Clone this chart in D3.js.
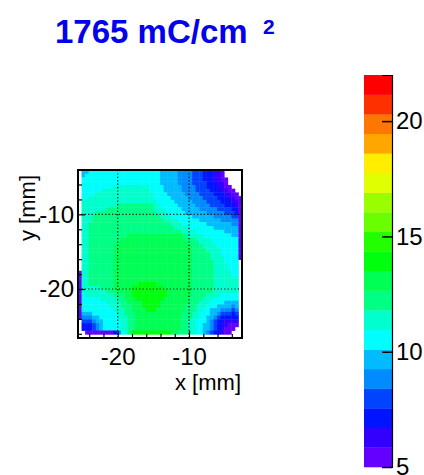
<!DOCTYPE html>
<html>
<head>
<meta charset="utf-8">
<script src="https://cdn.jsdelivr.net/npm/d3@7"></script>
<style>
  body { margin: 0; background: #fff; }
  text { font-family: "Liberation Sans", Arial, Helvetica, sans-serif; }
</style>
</head>
<body>
<script>
// ---- chart values ----
var titleText = "1765 mC/cm";
var titleSup = "2";
var xTitle = "x [mm]";
var yTitle = "y [mm]";

// x / y ranges of the map (mm), bin size 0.5 mm
var xRange = [-25.57, -2.57];
var yRange = [-26.56, -4.06];
var binSize = 0.5;

// z axis: 20 contour levels between 5 and 22
var zRange = [5, 22];
var nLevels = 20;

var xMajorTicks = [-20, -10];
var xMinorTicks = [-24, -22, -18, -16, -14, -12, -8, -6, -4];
var yMajorTicks = [-20, -10];
var yMinorTicks = [-26, -24, -22, -18, -16, -14, -12, -8, -6];
var zTicks = [5, 10, 15, 20];

// map, one row per 0.5 mm from the top (46 bins each).
// runs of "<band><count>": band 0-9, a = 10, "." = empty bin
var mapRuns = [
  ".1 52 620 55 44 33 23 12 01 .5",
  ".1 51 621 55 44 33 23 12 01 .5",
  ".1 622 55 44 33 23 12 02 .4",
  ".1 622 55 44 34 23 12 01 .4",
  ".1 69 710 64 55 44 33 23 12 02 .3",
  ".1 66 713 64 55 44 34 23 12 02 .2",
  ".1 64 716 64 55 44 34 23 12 02 .1",
  ".1 62 718 65 55 44 34 23 12 02",
  ".1 721 65 55 44 34 23 12 01",
  ".1 710 810 72 65 55 44 34 23 11 01",
  ".1 77 813 73 65 55 45 34 22 01",
  ".1 74 817 73 65 56 45 33 21 01",
  ".1 73 819 73 66 56 45 32 01",
  ".1 73 820 74 66 56 45 01",
  ".1 72 823 73 67 57 42 01",
  ".1 72 824 74 67 57 01",
  ".1 72 826 74 68 54 01",
  ".1 72 811 915 82 74 68 52 01",
  ".1 72 89 918 83 74 68 01",
  ".1 72 88 920 83 74 67 01",
  ".1 72 87 922 83 74 66 01",
  ".1 72 87 922 84 74 65 01",
  ".1 72 87 922 85 73 65 01",
  ".1 72 87 922 85 74 64 01",
  ".1 72 87 922 86 73 64 .1",
  ".1 72 87 922 86 74 63 .1",
  ".1 72 87 922 86 74 63 .1",
  "01 72 87 922 86 75 62 .1",
  "01 72 87 922 86 75 62 .1",
  "01 72 87 922 86 77 .1",
  "01 72 87 97 a5 910 86 77 .1",
  "01 75 84 95 a9 98 86 77 .1",
  "01 77 83 94 a10 97 86 77 .1",
  "01 61 78 83 92 a10 97 84 74 65 .1",
  "01 65 75 82 93 a8 97 84 73 67 .1",
  "01 67 74 82 94 a5 98 83 73 64 54 .1",
  "01 68 73 83 93 a5 97 83 73 63 54 41 51 .1",
  "01 69 73 82 94 a3 98 83 72 62 53 43 31 41 .1",
  "01 53 67 72 83 913 83 72 63 52 41 33 21 31 .1",
  "01 43 52 65 73 82 913 83 72 62 52 41 31 25 .1",
  ".1 33 41 52 65 72 82 913 82 72 63 51 41 31 22 14 .1",
  ".1 23 31 41 51 65 72 82 913 82 72 62 52 41 31 21 12 03 .1",
  ".1 23 31 41 51 65 72 82 913 82 72 62 52 41 31 21 11 03 .2",
  ".2 08 21 41 61 71 81 a11 92 83 72 62 51 41 31 22 11 02 .3",
  ".46"
];

// contour band colours: ROOT pretty palette (violet -> red) sampled for 20 levels
var palette = d3.range(nLevels).map(function(k) {
  var idx = Math.floor((k + 0.99) * 50 / nLevels);
  return d3.hsl(280 - (idx + 1) * 5.6, 1, 0.5).formatHex();
});

// ---- layout ----
var W = 424, H = 475;
var frame = {left: 78, top: 170, right: 242, bottom: 338};
var bar = {left: 364, right: 392, top: 75, bottom: 467};

var svg = d3.select("body").append("svg")
    .attr("width", W)
    .attr("height", H);

var x = d3.scaleLinear().domain(xRange).range([frame.left, frame.right]);
var y = d3.scaleLinear().domain(yRange).range([frame.bottom, frame.top]);
var z = d3.scaleLinear().domain(zRange).range([bar.bottom, bar.top]);
var zStep = (zRange[1] - zRange[0]) / nLevels;
var colour = d3.scaleQuantize().domain(zRange).range(palette);
var fmt = function(d) { return String(d); };   // plain hyphen minus like ROOT

// expand the runs into cell values
var cells = [];
mapRuns.forEach(function(row, r) {
  var c = 0;
  row.split(" ").forEach(function(tok) {
    var ch = tok[0], n = +tok.slice(1);
    for (var i = 0; i < n; i++, c++) {
      if (ch === ".") continue;
      cells.push({
        x0: xRange[0] + c * binSize,
        y1: yRange[1] - r * binSize,
        v: zRange[0] + (parseInt(ch, 36) + 0.5) * zStep
      });
    }
  });
  if (c !== 46) console.warn("row " + r + " has " + c + " bins");
});

// heat map cells
svg.append("g")
  .selectAll("rect")
  .data(cells)
  .enter().append("rect")
    .attr("x", function(d) { return x(d.x0); })
    .attr("y", function(d) { return y(d.y1); })
    .attr("width", function(d) { return x(d.x0 + binSize) - x(d.x0) + 0.4; })
    .attr("height", function(d) { return y(d.y1 - binSize) - y(d.y1) + 0.4; })
    .attr("fill", function(d) { return colour(d.v); });

// dotted grid
var grid = svg.append("g")
    .attr("stroke", "#000")
    .attr("stroke-width", 1.2)
    .attr("stroke-dasharray", "1.2,2.2");
grid.selectAll("line.gx")
    .data(xMajorTicks)
  .enter().append("line")
    .attr("x1", function(d) { return x(d); })
    .attr("x2", function(d) { return x(d); })
    .attr("y1", frame.top)
    .attr("y2", frame.bottom);
grid.selectAll("line.gy")
    .data(yMajorTicks)
  .enter().append("line")
    .attr("x1", frame.left)
    .attr("x2", frame.right)
    .attr("y1", function(d) { return y(d); })
    .attr("y2", function(d) { return y(d); });

// frame
svg.append("rect")
    .attr("x", frame.left)
    .attr("y", frame.top)
    .attr("width", frame.right - frame.left)
    .attr("height", frame.bottom - frame.top)
    .attr("fill", "none")
    .attr("stroke", "#000")
    .attr("stroke-width", 2);

// x axis: inward ticks
svg.append("g")
    .attr("transform", "translate(0," + frame.bottom + ")")
    .call(d3.axisBottom(x).tickValues(xMajorTicks).tickSize(-7).tickPadding(10)
      .tickFormat(fmt));
svg.append("g")
    .attr("transform", "translate(0," + frame.bottom + ")")
    .call(d3.axisBottom(x).tickValues(xMinorTicks).tickSize(-4).tickFormat(""));

// y axis
svg.append("g")
    .attr("transform", "translate(" + frame.left + ",0)")
    .call(d3.axisLeft(y).tickValues(yMajorTicks).tickSize(-7).tickPadding(4)
      .tickFormat(fmt));
svg.append("g")
    .attr("transform", "translate(" + frame.left + ",0)")
    .call(d3.axisLeft(y).tickValues(yMinorTicks).tickSize(-4).tickFormat(""));

svg.selectAll(".domain").remove();
svg.selectAll(".tick line").attr("stroke", "#000").attr("stroke-width", 1.2);
svg.selectAll(".tick text")
    .attr("fill", "#000")
    .style("font-size", "24px")
    .style("font-family", "Liberation Sans, Arial, sans-serif");

// axis titles, ROOT style: aligned to the end of the axis
svg.append("text")
    .attr("x", frame.right - 1)
    .attr("y", 390)
    .attr("text-anchor", "end")
    .style("font-size", "22px")
    .text(xTitle);
svg.append("text")
    .attr("transform", "translate(35," + (frame.top + 5) + ") rotate(-90)")
    .attr("text-anchor", "end")
    .style("font-size", "22px")
    .text(yTitle);

// colour bar
var bands = d3.range(nLevels).map(function(k) { return zRange[0] + k * zStep; });
svg.append("g")
  .selectAll("rect")
  .data(bands)
  .enter().append("rect")
    .attr("x", bar.left)
    .attr("width", bar.right - bar.left)
    .attr("y", function(d) { return z(d + zStep); })
    .attr("height", function(d) { return z(d) - z(d + zStep) + 0.3; })
    .attr("fill", function(d) { return colour(d + zStep / 2); });

var zAxis = svg.append("g")
    .attr("transform", "translate(" + bar.right + ",0)")
    .call(d3.axisRight(z).tickValues(zTicks).tickSize(-10).tickPadding(4)
      .tickFormat(fmt));
zAxis.select(".domain").attr("stroke", "#000").attr("stroke-width", 1.2);
zAxis.selectAll(".tick line").attr("stroke", "#000").attr("stroke-width", 1.5);
zAxis.selectAll(".tick text")
    .attr("fill", "#000")
    .style("font-size", "24px")
    .style("font-family", "Liberation Sans, Arial, sans-serif");

// title
svg.append("text")
    .attr("x", 55)
    .attr("y", 43)
    .attr("fill", "#0000ee")
    .style("font-size", "33px")
    .style("font-weight", "bold")
    .text(titleText);
svg.append("text")
    .attr("x", 263)
    .attr("y", 34)
    .attr("fill", "#0000ee")
    .style("font-size", "21px")
    .style("font-weight", "bold")
    .text(titleSup);
</script>
</body>
</html>
